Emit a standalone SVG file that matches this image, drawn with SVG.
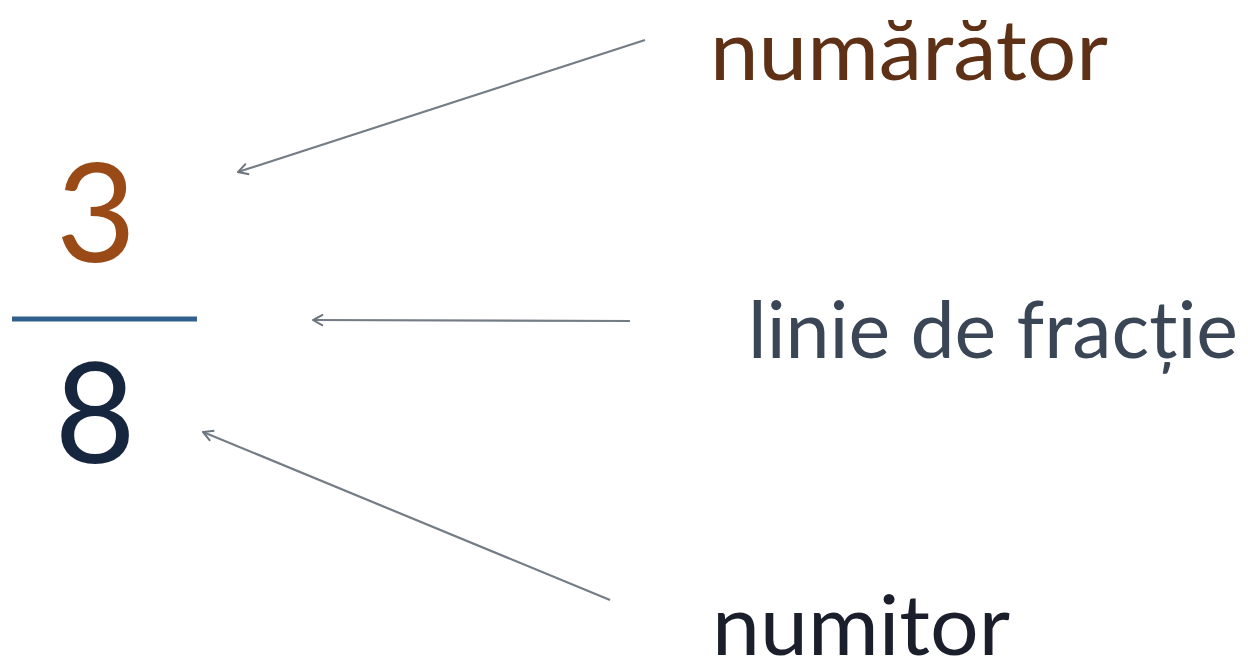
<svg xmlns="http://www.w3.org/2000/svg" width="1248" height="666" viewBox="0 0 1248 666">
<style>
.t{font-family:Lato,"Open Sans","Liberation Sans",sans-serif}
.c{stroke:#747c86;stroke-width:2.2;fill:none;marker-end:url(#ah)}
</style>
<defs>
<marker id="ah" viewBox="0 0 14 14" refX="13" refY="7" markerWidth="14" markerHeight="14" markerUnits="userSpaceOnUse" orient="auto">
<path d="M3,1.5 L13,7 L3,12.5" fill="none" stroke="#6c747e" stroke-width="2"/>
</marker>
</defs>
<rect width="1248" height="666" fill="#ffffff"/>
<g id="fraction">
<text class="t" x="96" y="262" font-size="138" fill="#9a4a16" text-anchor="middle">3</text>
<line x1="12" y1="319" x2="197" y2="319" stroke="#30608c" stroke-width="5"/>
<text class="t" x="95" y="463" font-size="140" fill="#16263f" text-anchor="middle">8</text>
</g>
<g id="numarator">
<text class="t" x="710" y="80" font-size="84" fill="#5e3016" textLength="398" lengthAdjust="spacingAndGlyphs">numărător</text>
</g>
<g id="linie">
<text class="t" x="748" y="358" font-size="80" fill="#3a4656" textLength="490" lengthAdjust="spacingAndGlyphs">linie de fracție</text>
</g>
<g id="numitor">
<text class="t" x="712" y="655" font-size="84" fill="#1b1f2c" textLength="298" lengthAdjust="spacingAndGlyphs">numitor</text>
</g>
<g id="connectors">
<line class="c" x1="645" y1="40" x2="238" y2="172"/>
<line class="c" x1="630" y1="321" x2="313" y2="320"/>
<line class="c" x1="610" y1="600" x2="203" y2="432"/>
</g>
</svg>
